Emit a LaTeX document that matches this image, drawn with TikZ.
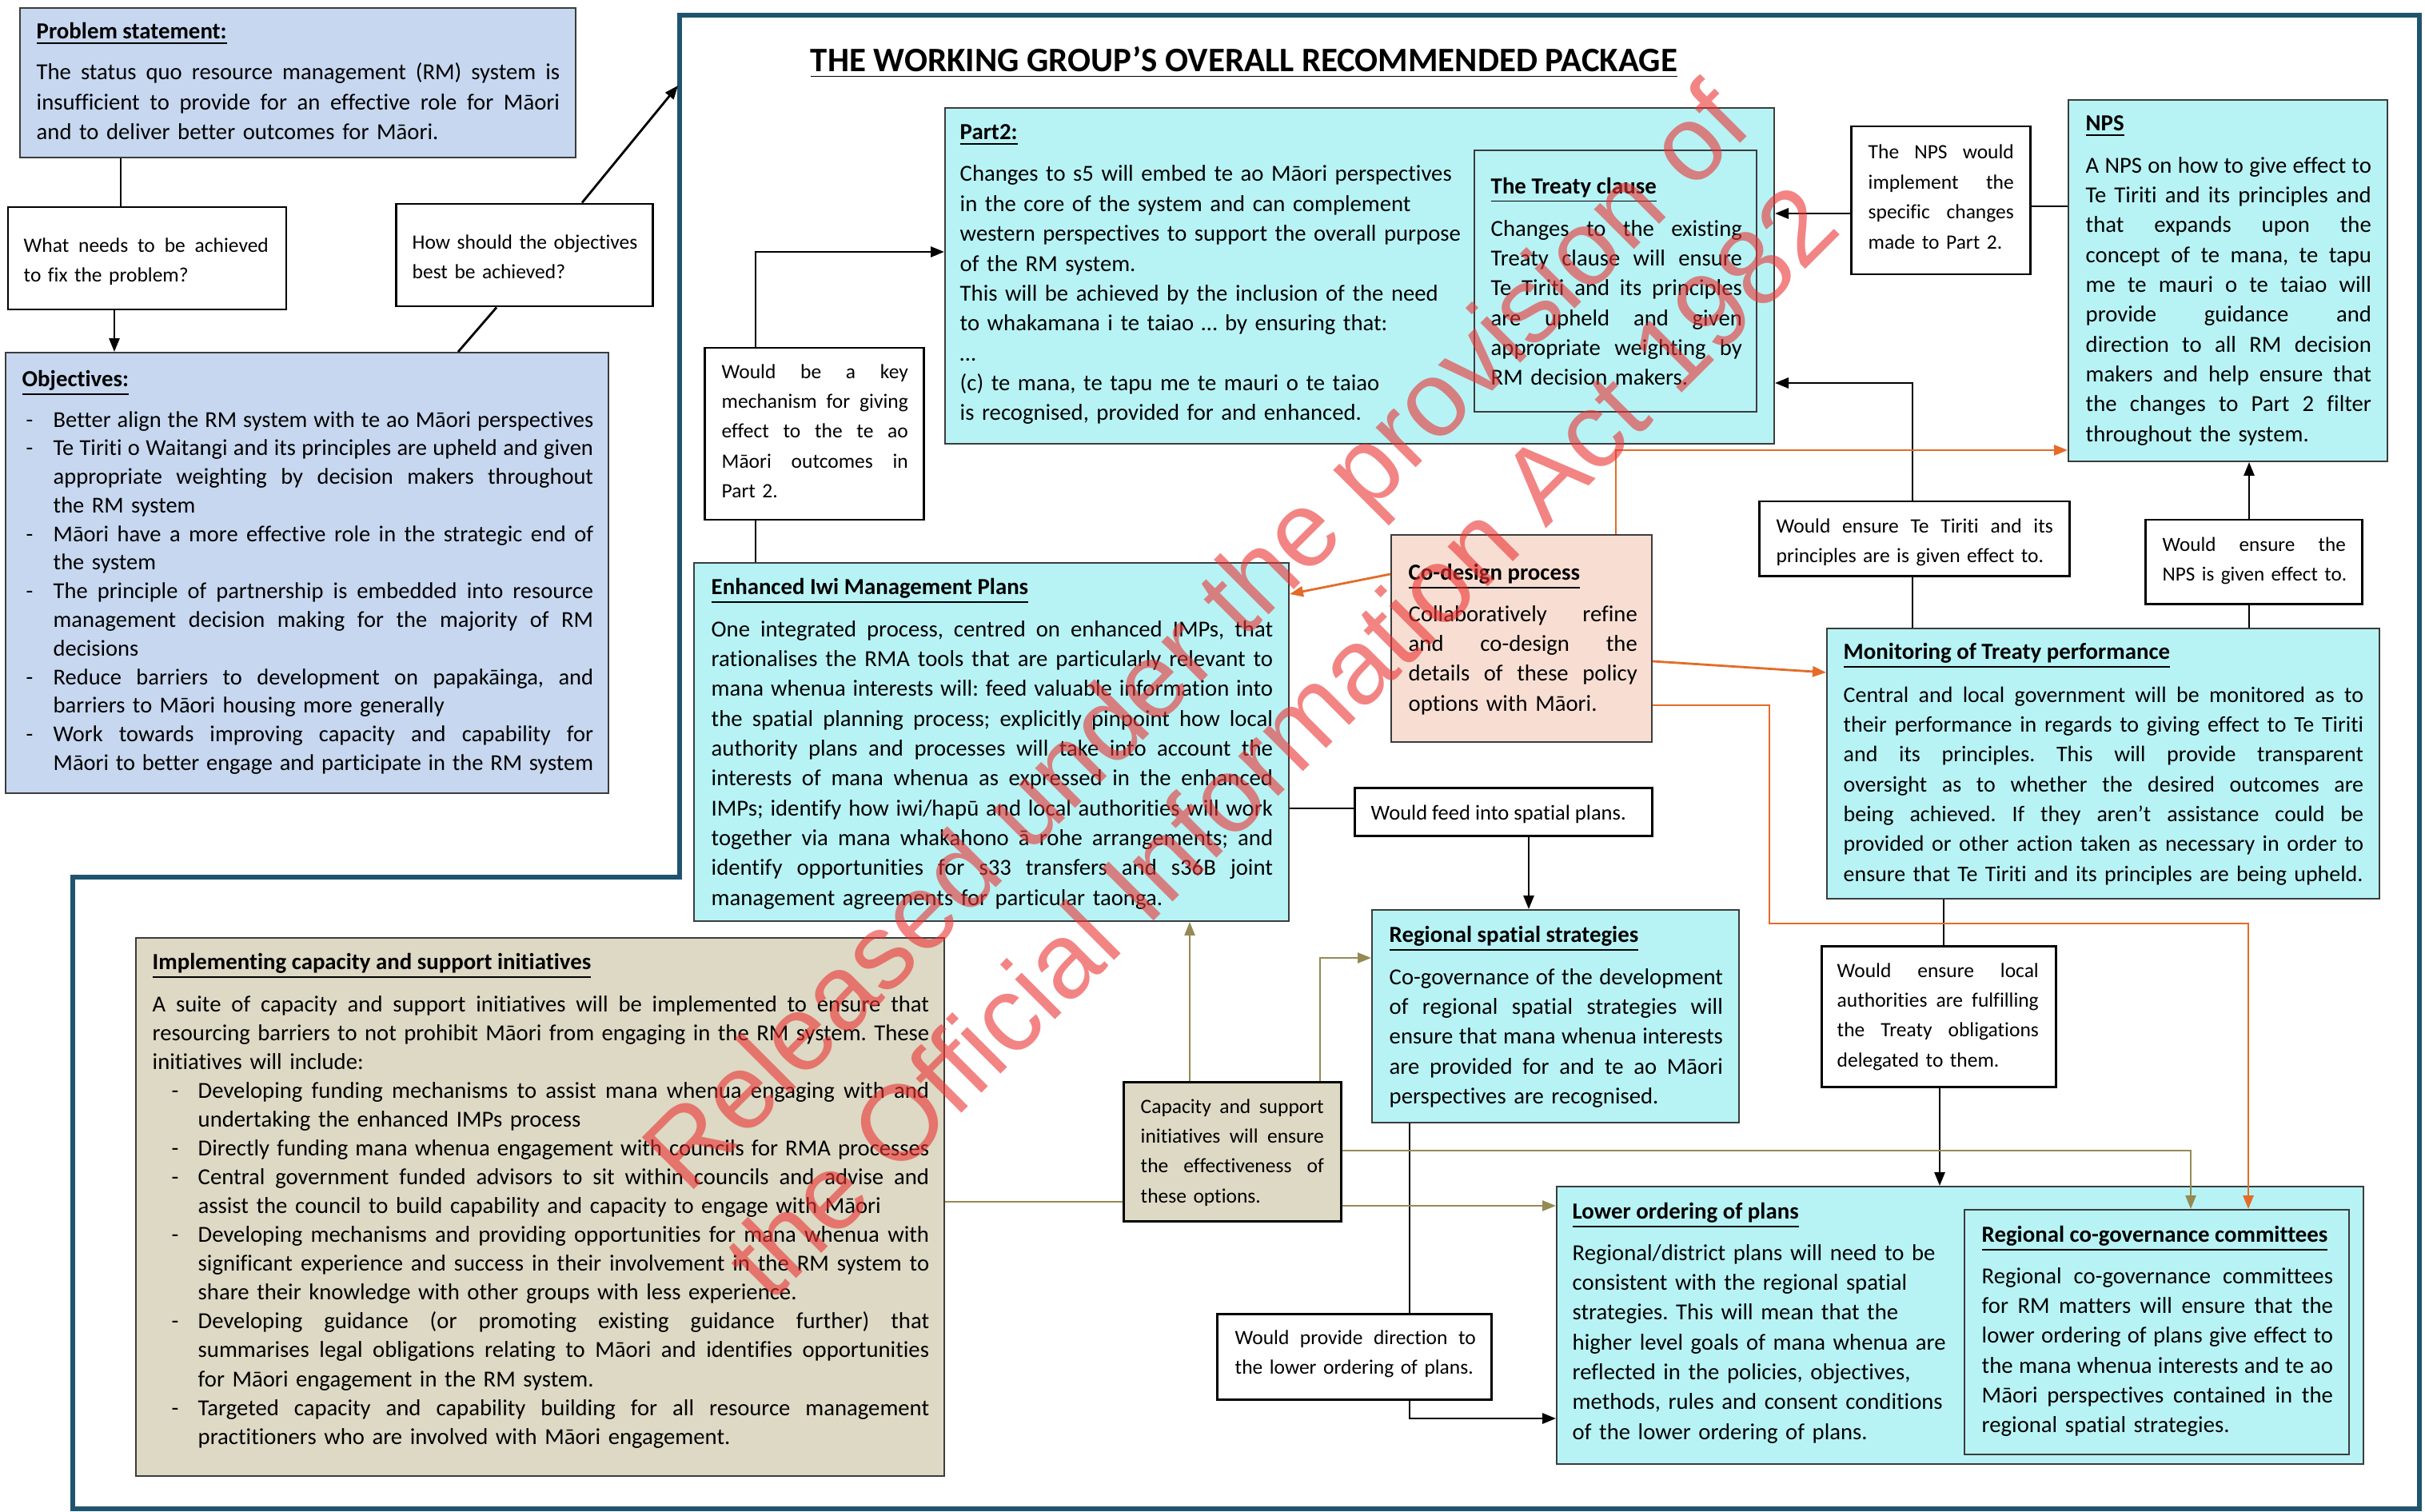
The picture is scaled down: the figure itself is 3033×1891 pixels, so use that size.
\documentclass[tikz,border=0pt]{standalone}
\usepackage{fontspec}
\setmainfont{Carlito}[Ligatures={NoCommon}]
\newfontfamily\wmfont{Liberation Sans}
\usetikzlibrary{arrows.meta,fit,calc}
\definecolor{cyanF}{RGB}{183,243,245}
\definecolor{blueF}{RGB}{198,215,239}
\definecolor{tanF}{RGB}{221,217,196}
\definecolor{peachF}{RGB}{248,222,210}
\definecolor{bordC}{RGB}{60,60,60}
\definecolor{frameC}{RGB}{31,84,110}
\definecolor{orangeC}{RGB}{228,108,40}
\definecolor{oliveC}{RGB}{148,138,84}
\definecolor{wmred}{RGB}{235,50,50}
\hyphenpenalty=10000
\exhyphenpenalty=10000
\frenchspacing
\hbadness=10000
\hfuzz=20pt
\newlength\bulind
\newlength\buldash
\newcommand\jline[1]{\makebox[\hsize][s]{\spaceskip=0pt\xspaceskip=0pt #1}\\}
\newcommand\bjline[1]{\makebox[\bulind][l]{\hspace*{\buldash}-}\makebox[\dimexpr\hsize-\bulind\relax][s]{\spaceskip=0pt\xspaceskip=0pt #1}\\}
\newcommand\blline[1]{\makebox[\bulind][l]{\hspace*{\buldash}-}#1\\}
\newcommand\cjline[1]{\hspace*{\bulind}\makebox[\dimexpr\hsize-\bulind\relax][s]{\spaceskip=0pt\xspaceskip=0pt #1}\\}
\newcommand\clline[1]{\hspace*{\bulind}\mbox{#1}\\}
\newcommand\cend[1]{\hspace*{\bulind}\mbox{#1}}
\begin{document}
\begin{tikzpicture}[x=0.01cm, y=-0.01cm,
  cbox/.style={draw=bordC, line width=0.55pt, fill=cyanF, inner sep=0pt},
  lbox/.style={draw=black, line width=0.85pt, fill=white, inner sep=0pt},
  bbox/.style={draw=bordC, line width=0.55pt, fill=blueF, inner sep=0pt},
  tbox/.style={draw=bordC, line width=0.55pt, fill=tanF, inner sep=0pt},
  tboxk/.style={draw=black, line width=0.85pt, fill=tanF, inner sep=0pt},
  pbox/.style={draw=bordC, line width=0.55pt, fill=peachF, inner sep=0pt},
  body/.style={anchor=base west, inner sep=0pt, font=\fontsize{8.16}{10.62}\selectfont},
  lab/.style={anchor=base west, inner sep=0pt, font=\fontsize{7.25}{10.62}\selectfont},
  ttl/.style={anchor=base west, inner sep=0pt, font=\fontsize{8.2}{10}\selectfont\bfseries},
  conn/.style={line width=0.8pt, draw=black},
  arr/.style={-{Triangle[length=0.17cm,width=0.13cm]}},
  orng/.style={line width=0.8pt, draw=orangeC},
  olv/.style={line width=0.7pt, draw=oliveC},
  frame/.style={draw=frameC, line width=1.5pt, line join=miter},
  wm/.style={text=wmred, text opacity=0.6, font=\wmfont\fontsize{38}{44}\selectfont, rotate=45, anchor=base, inner sep=0pt}
]
\useasboundingbox (0,0) rectangle (3033,1891);

% outer frame
\draw[frame] (850,19) -- (3026,19) -- (3026,1887) -- (91,1887) -- (91,1097) -- (850,1097) -- cycle;

% lane coordinates
\coordinate (xA) at (151,0);
\coordinate (xB) at (143,0);
\coordinate (xC) at (573,0);
\coordinate (xD) at (621,0);
\coordinate (xE) at (728,0);
\coordinate (frameA) at (848,107);
\coordinate (xF) at (945,0);
\coordinate (yA) at (0,315);
\coordinate (yB) at (0,267);
\coordinate (yC) at (0,258);
\coordinate (xG) at (2392,0);
\coordinate (yD) at (0,479);
\coordinate (xH) at (2813,0);
\coordinate (xI) at (2431,0);
\coordinate (xI2) at (2426,0);
\coordinate (yE) at (0,1011);
\coordinate (xJ) at (1912,0);
\coordinate (xK) at (1763,0);
\coordinate (yF) at (0,1774);
\coordinate (yG) at (0,1503);
\coordinate (xL) at (1488,0);
\coordinate (xM) at (1651,0);
\coordinate (yH) at (0,1198);
\coordinate (yI) at (0,1439);
\coordinate (xN) at (2740,0);
\coordinate (yJ) at (0,1508);
\coordinate (yK) at (0,718);
\coordinate (yL) at (0,743);
\coordinate (xO) at (2021,0);
\coordinate (yM) at (0,563);
\coordinate (yN) at (0,827);
\coordinate (yP) at (0,841);
\coordinate (yQ) at (0,882);
\coordinate (xR) at (2213,0);
\coordinate (yS) at (0,1155);
\coordinate (xT) at (2812,0);

% boxes
\node[bbox, fit={(25,10) (720,197)}] (prob) {};
\node[lbox, fit={(10,259) (358,387)}] (what) {};
\node[lbox, fit={(495,255) (816,383)}] (how) {};
\node[bbox, fit={(7,441) (761,992)}] (obj) {};
\node[cbox, fit={(1182,135) (2219,555)}] (part2) {};
\node[cbox, fit={(1844,188) (2197,515)}] (treaty) {};
\node[lbox, fit={(881,435) (1155,650)}] (key) {};
\node[cbox, fit={(868,704) (1612,1152)}] (imp) {};
\node[pbox, fit={(1740,669) (2066,928)}] (codes) {};
\node[lbox, fit={(1694,985) (2066,1045)}] (feed) {};
\node[cbox, fit={(1716,1138) (2175,1404)}] (rss) {};
\node[tboxk, fit={(1405,1353) (1677,1527)}] (capS) {};
\node[lbox, fit={(2315,158) (2539,343)}] (npsimp) {};
\node[cbox, fit={(2587,125) (2986,577)}] (nps) {};
\node[lbox, fit={(2200,627) (2588,720)}] (tiriti) {};
\node[lbox, fit={(2683,650) (2954,755)}] (npsgiv) {};
\node[cbox, fit={(2285,786) (2976,1124)}] (mon) {};
\node[lbox, fit={(2278,1183) (2571,1359)}] (local) {};
\node[cbox, fit={(1947,1484) (2956,1831)}] (lower) {};
\node[cbox, fit={(2457,1513) (2938,1819)}] (rcg) {};
\node[tbox, fit={(170,1173) (1181,1846)}] (impl) {};
\node[lbox, fit={(1522,1643) (1865,1750)}] (prov) {};

% title
\node[anchor=base, inner sep=0pt, font=\fontsize{12.2}{14}\selectfont\bfseries] (title) at (1556,90) {\underline{THE WORKING GROUP’S OVERALL RECOMMENDED PACKAGE}};

% texts
\node[ttl] (probTtl) at (45,49) {\underline{Problem statement:}};
\node[body, text width=6.54cm] (probTxt) at (45,100) {\jline{The status quo resource management (RM) system is}\jline{insufficient to provide for an effective role for Māori}\mbox{and to deliver better outcomes for Māori.}};

\node[lab, text width=3.06cm] (whatTxt) at (29,315) {\jline{What needs to be achieved}\mbox{to fix the problem?}};
\node[lab, text width=3.0cm] (howTxt) at (515,311) {\mbox{How should the objectives}\\\mbox{best be achieved?}};

\node[ttl] (objTtl) at (27,483) {\underline{Objectives:}};
\node[body, text width=7.14cm, font=\fontsize{8.1}{10.18}\selectfont] (objTxt) at (27,534) {\setlength\bulind{0.39cm}\setlength\buldash{0.05cm}%
\bjline{Better align the RM system with te ao Māori perspectives}%
\bjline{Te Tiriti o Waitangi and its principles are upheld and given}%
\cjline{appropriate weighting by decision makers throughout}%
\clline{the RM system}%
\bjline{Māori have a more effective role in the strategic end of}%
\clline{the system}%
\bjline{The principle of partnership is embedded into resource}%
\cjline{management decision making for the majority of RM}%
\clline{decisions}%
\bjline{Reduce barriers to development on papakāinga, and}%
\clline{barriers to Māori housing more generally}%
\bjline{Work towards improving capacity and capability for}%
\cjline{Māori to better engage and participate in the RM system}};

\node[ttl] (p2Ttl) at (1200,175) {\underline{Part2:}};
\node[body, text width=6.4cm] (p2Txt) at (1200,227) {\mbox{Changes to s5 will embed te ao Māori perspectives}\\\mbox{in the core of the system and can complement}\\\mbox{western perspectives to support the overall purpose}\\\mbox{of the RM system.}\\\mbox{This will be achieved by the inclusion of the need}\\\mbox{to whakamana i te taiao … by ensuring that:}\\…\\\mbox{(c) te mana, te tapu me te mauri o te taiao}\\\mbox{is recognised, provided for and enhanced.}};

\node[ttl] (trTtl) at (1864,242) {\underline{The Treaty clause}};
\node[body, text width=3.14cm] (trTxt) at (1864,295) {\jline{Changes to the existing}\jline{Treaty clause will ensure}\jline{Te Tiriti and its principles}\jline{are upheld and given}\jline{appropriate weighting by}\mbox{RM decision makers.}};

\node[lab, text width=2.33cm] (keyTxt) at (902,473) {\jline{Would be a key}\jline{mechanism for giving}\jline{effect to the te ao}\jline{Māori outcomes in}Part 2.};

\node[ttl] (impTtl) at (889,743) {\underline{Enhanced Iwi Management Plans}};
\node[body, text width=7.02cm] (impTxt) at (889,796) {\jline{One integrated process, centred on enhanced IMPs, that}\jline{rationalises the RMA tools that are particularly relevant to}\jline{mana whenua interests will: feed valuable information into}\jline{the spatial planning process; explicitly pinpoint how local}\jline{authority plans and processes will take into account the}\jline{interests of mana whenua as expressed in the enhanced}\jline{IMPs; identify how iwi/hapū and local authorities will work}\jline{together via mana whakahono ā rohe arrangements; and}\jline{identify opportunities for s33 transfers and s36B joint}\mbox{management agreements for particular taonga.}};

\node[ttl] (coTtl) at (1761,725) {\underline{Co-design process}};
\node[body, text width=2.86cm] (coTxt) at (1761,777) {\jline{Collaboratively refine}\jline{and co-design the}\jline{details of these policy}\mbox{options with Māori.}};

\node[lab, font=\fontsize{7.55}{10.62}\selectfont] (feedTxt) at (1714,1025) {Would feed into spatial plans.};

\node[ttl] (rsTtl) at (1737,1178) {\underline{Regional spatial strategies}};
\node[body, text width=4.17cm] (rsTxt) at (1737,1231) {\jline{Co-governance of the development}\jline{of regional spatial strategies will}\jline{ensure that mana whenua interests}\jline{are provided for and te ao Māori}\mbox{perspectives are recognised.}};

\node[lab, text width=2.29cm] (capTxt) at (1426,1392) {\jline{Capacity and support}\jline{initiatives will ensure}\jline{the effectiveness of}\mbox{these options.}};

\node[lab, text width=1.82cm] (npsimpTxt) at (2336,199) {\jline{The NPS would}\jline{implement the}\jline{specific changes}\mbox{made to Part 2.}};

\node[ttl] (npsTtl) at (2608,164) {\underline{NPS}};
\node[body, text width=3.57cm] (npsTxt) at (2608,216) {\jline{A NPS on how to give effect to}\jline{Te Tiriti and its principles and}\jline{that expands upon the}\jline{concept of te mana, te tapu}\jline{me te mauri o te taiao will}\jline{provide guidance and}\jline{direction to all RM decision}\jline{makers and help ensure that}\jline{the changes to Part 2 filter}\mbox{throughout the system.}};

\node[lab, text width=3.46cm] (tirTxt) at (2221,666) {\jline{Would ensure Te Tiriti and its}\mbox{principles are is given effect to.}};

\node[lab, text width=2.29cm, font=\fontsize{7.15}{10.62}\selectfont] (givTxt) at (2704,689) {\jline{Would ensure the}\mbox{NPS is given effect to.}};

\node[ttl] (monTtl) at (2305,824) {\underline{Monitoring of Treaty performance}};
\node[body, text width=6.50cm, font=\fontsize{7.95}{10.62}\selectfont] (monTxt) at (2305,878) {\jline{Central and local government will be monitored as to}\jline{their performance in regards to giving effect to Te Tiriti}\jline{and its principles. This will provide transparent}\jline{oversight as to whether the desired outcomes are}\jline{being achieved. If they aren’t assistance could be}\jline{provided or other action taken as necessary in order to}\mbox{ensure that Te Tiriti and its principles are being upheld.}};

\node[lab, text width=2.52cm] (locTxt) at (2297,1222) {\jline{Would ensure local}\jline{authorities are fulfilling}\jline{the Treaty obligations}\mbox{delegated to them.}};

\node[ttl] (lowTtl) at (1966,1524) {\underline{Lower ordering of plans}};
\node[body, text width=4.8cm] (lowTxt) at (1966,1576) {\mbox{Regional/district plans will need to be}\\\mbox{consistent with the regional spatial}\\\mbox{strategies. This will mean that the}\\\mbox{higher level goals of mana whenua are}\\\mbox{reflected in the policies, objectives,}\\\mbox{methods, rules and consent conditions}\\\mbox{of the lower ordering of plans.}};

\node[ttl] (rcgTtl) at (2478,1553) {\underline{Regional co-governance committees}};
\node[body, text width=4.39cm] (rcgTxt) at (2478,1605) {\jline{Regional co-governance committees}\jline{for RM matters will ensure that the}\jline{lower ordering of plans give effect to}\jline{the mana whenua interests and te ao}\jline{Māori perspectives contained in the}\mbox{regional spatial strategies.}};

\node[ttl] (implTtl) at (190,1212) {\underline{Implementing capacity and support initiatives}};
\node[body, text width=9.71cm, font=\fontsize{8.16}{10.26}\selectfont] (implTxt) at (190,1265) {\setlength\bulind{0.57cm}\setlength\buldash{0.24cm}%
\jline{A suite of capacity and support initiatives will be implemented to ensure that}%
\jline{resourcing barriers to not prohibit Māori from engaging in the RM system. These}%
\mbox{initiatives will include:}\\%
\bjline{Developing funding mechanisms to assist mana whenua engaging with and}%
\clline{undertaking the enhanced IMPs process}%
\bjline{Directly funding mana whenua engagement with councils for RMA processes}%
\bjline{Central government funded advisors to sit within councils and advise and}%
\clline{assist the council to build capability and capacity to engage with Māori}%
\bjline{Developing mechanisms and providing opportunities for mana whenua with}%
\cjline{significant experience and success in their involvement in the RM system to}%
\clline{share their knowledge with other groups with less experience.}%
\bjline{Developing guidance (or promoting existing guidance further) that}%
\cjline{summarises legal obligations relating to Māori and identifies opportunities}%
\clline{for Māori engagement in the RM system.}%
\bjline{Targeted capacity and capability building for all resource management}%
\cend{practitioners who are involved with Māori engagement.}};

\node[lab, text width=3.01cm] (provTxt) at (1544,1681) {\jline{Would provide direction to}\mbox{the lower ordering of plans.}};

% black connectors
\draw[conn] (prob.south -| xA) -- (what.north -| xA);
\draw[conn,arr] (what.south -| xB) -- (obj.north -| xB);
\draw[conn] (obj.north -| xC) -- (how.south -| xD);
\draw[conn,arr] (how.north -| xE) -- (frameA);
\draw[conn,arr] (key.north -| xF) |- (part2.west |- yA);
\draw[conn] (key.south -| xF) -- (imp.north -| xF);
\draw[conn,arr] (npsimp.west |- yB) -- (part2.east |- yB);
\draw[conn] (nps.west |- yC) -- (npsimp.east |- yC);
\draw[conn,arr] (tiriti.north -| xG) |- (part2.east |- yD);
\draw[conn] (tiriti.south -| xG) -- (mon.north -| xG);
\draw[conn] (mon.north -| xH) -- (npsgiv.south -| xH);
\draw[conn,arr] (npsgiv.north -| xH) -- (nps.south -| xH);
\draw[conn] (mon.south -| xI) -- (local.north -| xI);
\draw[conn,arr] (local.south -| xI2) -- (lower.north -| xI2);
\draw[conn] (imp.east |- yE) -- (feed.west |- yE);
\draw[conn,arr] (feed.south -| xJ) -- (rss.north -| xJ);
\draw[conn] (rss.south -| xK) -- (prov.north -| xK);
\draw[conn,arr] (prov.south -| xK) |- (lower.west |- yF);

% olive connectors
\draw[olv] (impl.east |- yG) -- (capS.west |- yG);
\draw[olv,arr] (capS.north -| xL) -- (imp.south -| xL);
\draw[olv,arr] (capS.north -| xM) |- (rss.west |- yH);
\draw[olv,arr] (capS.east |- yI) -| (rcg.north -| xN);
\draw[olv,arr] (capS.east |- yJ) -- (lower.west |- yJ);

% orange connectors
\draw[orng,arr] (codes.west |- yK) -- (imp.east |- yL);
\draw[orng,arr] (codes.north -| xO) |- (nps.west |- yM);
\draw[orng,arr] (codes.east |- yN) -- (mon.west |- yP);
\draw[orng,arr] (codes.east |- yQ) -| (xR |- yS) -| (rcg.north -| xT);

% watermark
\node[wm] (wm1) at (1528,828) {Released under the provision of};
\node[wm] (wm2) at (1635,960) {the Official Information Act 1982};
\end{tikzpicture}
\end{document}
